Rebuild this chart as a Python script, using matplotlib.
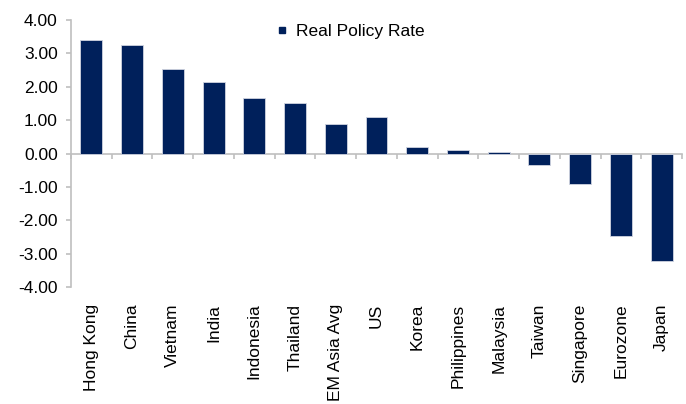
import numpy as np
import matplotlib.pyplot as plt
from matplotlib.lines import Line2D

plt.rcParams['font.family'] = ['Liberation Sans', 'DejaVu Sans']

# real policy rates by economy
countries = ["Hong Kong", "China", "Vietnam", "India", "Indonesia", "Thailand",
             "EM Asia Avg", "US", "Korea", "Philippines", "Malaysia", "Taiwan",
             "Singapore", "Eurozone", "Japan"]
rates = [3.41, 3.26, 2.52, 2.14, 1.65, 1.50, 0.87, 1.08, 0.20, 0.09, 0.05,
         -0.33, -0.90, -2.48, -3.22]
yticks = [4, 3, 2, 1, 0, -1, -2, -3, -4]

navy = "#00205B"
grey = "#BFBFBF"

fig = plt.figure(figsize=(6.86, 4.04), dpi=100)
ax = fig.add_axes([71 / 686, 1 - 287 / 404, (682 - 71) / 686, (287 - 20) / 404])

x = np.arange(len(countries))
ax.bar(x, rates, width=0.54, color=navy, edgecolor="#D0D4E0", linewidth=0.6,
       zorder=3)

ax.set_xlim(-0.5, len(countries) - 0.5)
ax.set_ylim(-4, 4)
ax.set_yticks(yticks)
ax.set_yticklabels(["%.2f" % v for v in yticks], fontsize=12.5)

for s in ["top", "right"]:
    ax.spines[s].set_visible(False)
ax.spines["left"].set_color(grey)
ax.spines["left"].set_linewidth(1.2)
ax.spines["bottom"].set_position(("data", 0))
ax.spines["bottom"].set_color(grey)
ax.spines["bottom"].set_linewidth(1.2)

# tick marks between categories on the zero line
ax.set_xticks(np.arange(-0.5, len(countries), 1.0))
ax.set_xticklabels([])
ax.tick_params(axis="x", direction="out", length=3.5, color=grey, width=1.2)
ax.tick_params(axis="y", direction="out", length=3.5, color=grey, width=1.2, pad=6)

# category names below the plot
sec = ax.secondary_xaxis("bottom")
sec.set_xticks(x)
sec.set_xticklabels(countries, rotation=90, fontsize=12.5)
sec.tick_params(length=0, pad=12)
sec.spines["bottom"].set_visible(False)

# small square legend marker
handle = Line2D([], [], marker="s", linestyle="", color=navy, markersize=5)
ax.legend([handle], ["Real Policy Rate"], loc="upper left",
          bbox_to_anchor=(0.311, 1.045), frameon=False, fontsize=12.5,
          handlelength=0.6, handletextpad=0.5)

fig.savefig("out.png", dpi=100)
